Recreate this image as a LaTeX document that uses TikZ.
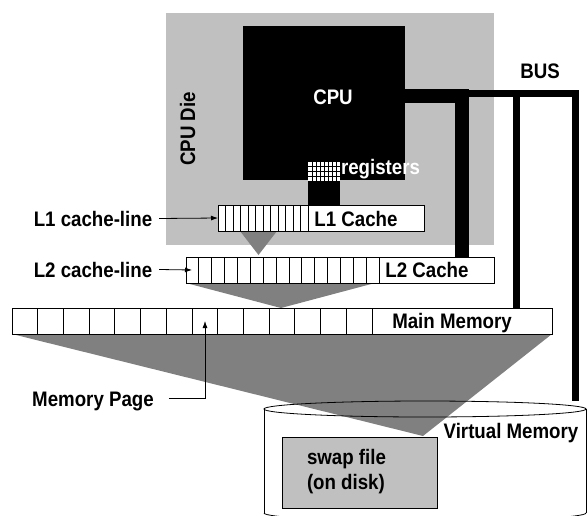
\documentclass[tikz,border=0pt]{standalone}
\usepackage{fontspec}
\setmainfont{Liberation Sans}[FakeStretch=0.89]
\usetikzlibrary{arrows.meta}
\definecolor{lgray}{HTML}{C0C0C0}
\definecolor{dgray}{HTML}{808080}
\begin{document}
\begin{tikzpicture}[x=1pt,y=-1pt,
  font=\fontsize{21}{24}\selectfont\bfseries,
  every node/.style={inner sep=0pt, outer sep=0pt},
  block/.style={fill=black, anchor=north west},
  cachebox/.style={draw=black, line width=0.8pt, fill=white, anchor=north west, minimum height=26},
  cellline/.style={line width=0.8pt},
  funnel/.style={fill=dgray},
  busline/.style={line width=7pt, line join=miter},
  ptr/.style={-{Latex[length=7pt,width=5pt]}, line width=0.8pt},
  whitelbl/.style={text=white}]
\useasboundingbox (0,0) rectangle (587,515);
\clip (0,0) rectangle (587,515);

% CPU die
\node[fill=lgray, anchor=north west, minimum width=328, minimum height=232] (die) at (166,13) {};
\node[rotate=90, anchor=base] (dielbl) at (195,129) {CPU Die};

% CPU
\node[block, minimum width=162, minimum height=154] (cpu) at (243,26) {};
\node[whitelbl, anchor=base] (cpulbl) at (333,104) {CPU};
\node[block, minimum width=32, minimum height=26] (link) at (308,180) {};
\node[fill=white, anchor=north west, minimum width=32, minimum height=19] (regs) at (308,162) {};
\foreach \i in {1,...,7} \draw[line width=0.9pt] (308+4*\i,162) -- (308+4*\i,181);
\foreach \j in {1,2,3} \draw[line width=0.9pt] (308,162+4.75*\j) -- (340,162+4.75*\j);
\node[whitelbl, anchor=base west] (reglbl) at (341,174) {registers};

% funnels
\fill[funnel] (240,231) -- (277,231) -- (258.5,255) -- cycle;
\fill[funnel] (186,283) -- (375,283) -- (281,308) -- cycle;
\fill[funnel] (12,334) -- (552,334) -- (423,436) -- cycle;

% L1 cache
\node[cachebox, minimum width=206] (l1) at (218,205) {};
\foreach \k in {1,...,12} \draw[cellline] (218+7.5*\k,205) -- (218+7.5*\k,231);
\node[anchor=base] (l1txt) at (356,226) {L1 Cache};

% L2 cache
\node[cachebox, minimum width=308] (l2) at (186,257) {};
\foreach \k in {1,...,15} \draw[cellline] (186+12.87*\k,257) -- (186+12.87*\k,283);
\node[anchor=base] (l2txt) at (427,277) {L2 Cache};

% Main memory
\node[cachebox, minimum width=540] (mem) at (12,308) {};
\foreach \k in {1,...,14} \draw[cellline] (12+25.71*\k,308) -- (12+25.71*\k,334);
\node[anchor=base] (memtxt) at (452,328) {Main Memory};

% Bus
\coordinate (busA) at (461.5,96);
\coordinate (busB) at (461.5,257);
\coordinate (busC) at (516.5,93);
\coordinate (busD) at (516.5,308);
\coordinate (busE) at (575,401);
\draw[line width=14pt, line join=miter] (cpu.east |- busA) -| (busB);
\draw[busline] (455,93) -| (busE);
\draw[busline] (busC) -- (busD);
\node[anchor=base] (buslbl) at (540,78) {BUS};

% disk cylinder
\draw[line width=0.8pt] (264,409) -- (264,513);
\draw[line width=0.8pt] (586,409) -- (586,513);
\draw[line width=0.8pt] (264,513) arc[start angle=180, end angle=0, x radius=161, y radius=8];
\draw[line width=0.8pt] (425,409) ellipse [x radius=161, y radius=8];
\node[anchor=base] (vmtxt) at (511,438) {Virtual Memory};
\node[draw=black, line width=0.8pt, fill=lgray, anchor=north west, minimum width=155, minimum height=71] (swap) at (282,437) {};
\node[anchor=base west] (swap1) at (307,464) {swap file};
\node[anchor=base west] (swap2) at (307,489) {(on disk)};

% labels with pointers
\node[anchor=base] (l1lbl) at (93,226) {L1 cache-line};
\node[anchor=base] (l2lbl) at (93,277) {L2 cache-line};
\node[anchor=base] (mplbl) at (93,406) {Memory Page};
\draw[ptr] ([xshift=7pt]l1lbl.east) -- (l1.west);
\draw[ptr] ([xshift=7pt]l2lbl.east) -- ([xshift=6pt]l2.west);
\coordinate (pagecell) at (205,321);
\draw[ptr] ([xshift=15pt]mplbl.east |- 0,398) -| (pagecell);
\end{tikzpicture}
\end{document}
